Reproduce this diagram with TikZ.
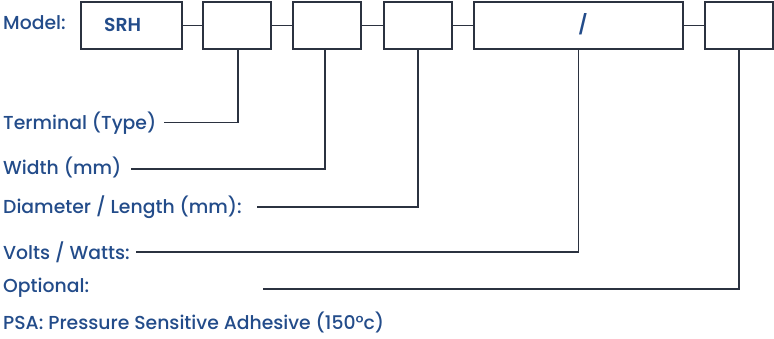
\documentclass[tikz,border=0pt]{standalone}
\usepackage{fontspec}
\setmainfont{Poppins}[UprightFont=* Medium,BoldFont=* SemiBold]
\definecolor{txtblue}{HTML}{234C8A}
\definecolor{linegray}{HTML}{2B3240}
\begin{document}
\begin{tikzpicture}[x=1pt,y=-1pt,
  cell/.style={draw=linegray,line width=1.6pt,minimum height=47pt,inner sep=0pt,anchor=north west,fill=white},
  lbl/.style={anchor=west,inner sep=0pt,text=txtblue,font=\fontsize{18.8}{20}\selectfont},
  wire/.style={draw=linegray,line width=1.5pt}]
\useasboundingbox (0,0) rectangle (774,338);
\node[cell,minimum width=101pt] (b1) at (80,1) {};
\node[cell,minimum width=68pt] (b2) at (202,1) {};
\node[cell,minimum width=68pt] (b3) at (292,1) {};
\node[cell,minimum width=68pt] (b4) at (383,1) {};
\node[cell,minimum width=209pt] (b5) at (473,1) {};
\node[cell,minimum width=68pt] (b6) at (704,1) {};
\node[lbl,font=\bfseries\fontsize{18.8}{20}\selectfont] (srh) at (104,24.5) {SRH};
\node[lbl,font=\bfseries\fontsize{19}{20}\selectfont,anchor=center] (sl) at (583,24.5) {/};
\node[lbl] (model) at (3,23) {Model:};
\node[lbl] (t1) at (3,123) {Terminal (Type)};
\node[lbl] (t2) at (3,167) {Width (mm)};
\node[lbl] (t3) at (3,207) {Diameter / Length (mm):};
\node[lbl] (t4) at (3,252) {Volts / Watts:};
\node[lbl] (t5) at (3,288) {Optional:};
\node[lbl] (t6) at (3,322) {PSA: Pressure Sensitive Adhesive (150°c)};
\coordinate (e1) at (164,122.5);
\coordinate (e2) at (131,169);
\coordinate (e3) at (257,207);
\coordinate (e4) at (136,252);
\coordinate (e5) at (263,289);
\draw[wire] (b1.east) -- (b2.west);
\draw[wire] (b2.east) -- (b3.west);
\draw[wire] (b3.east) -- (b4.west);
\draw[wire] (b4.east) -- (b5.west);
\draw[wire] (b5.east) -- (b6.west);
\draw[wire] (e1) -| ([xshift=1pt]b2.south);
\draw[wire] (e2) -| ([xshift=-2pt]b3.south);
\draw[wire] (e3) -| (b4.south);
\draw[wire] (e4) -| (b5.south);
\draw[wire] (e5) -| (b6.south);
\end{tikzpicture}
\end{document}
